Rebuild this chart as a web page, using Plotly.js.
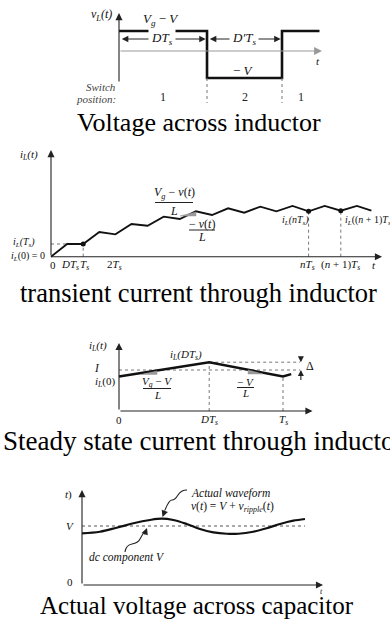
<!DOCTYPE html>
<html><head><meta charset="utf-8">
<script src="https://cdn.plot.ly/plotly-3.0.1.min.js"></script>
<style>html,body{margin:0;padding:0;background:#fff;}#chart{width:390px;height:623px;}</style>
</head><body><div id="chart"></div>
<script>
// ---------------- DATA ----------------
// Panel 1: voltage across inductor over one period (t in units of Ts; relative volts)
const vL_t      = [0, 0.54, 1, 1.23];
const vL_values = [1, -1.35, 1, 1];           // Vg - V , -V , Vg - V
const switchLabels = ['1', '2', '1'];

// Panel 2: transient inductor current (t in units of Ts; relative current)
const tr_t  = [0, 0.5, 1, 1.5, 2, 2.5, 3, 3.5, 4, 4.5, 5, 5.5, 6, 6.5, 7, 7.5, 8, 8.5, 9, 9.5, 9.95];
const tr_iL = [0, 12.7, 12.7, 24.7, 22.4, 32.7, 31, 40, 37.7, 45.4, 41.7, 48.4, 44, 50, 45.4, 50.7, 45.4, 50.7, 46, 50.7, 46];
const tr_tickVals = [0, 0.5, 1, 2, 8, 9];
const tr_tickText = ['0', '<i>DT<sub>s</sub></i>', '<i>T<sub>s</sub></i>', '2<i>T<sub>s</sub></i>', '<i>nT<sub>s</sub></i>', '(<i>n</i> + 1)<i>T<sub>s</sub></i>'];
const tr_marked = [1, 8, 9];

// Panel 3: steady-state inductor current (t in Ts; current in units of I)
const ss_t  = [0, 0.55, 1, 1.05];
const ss_iL = [0.84, 1.19, 0.84, 0.9];
const ss_I  = 1;
const ss_tickVals = [0, 0.55, 1];
const ss_tickText = ['0', '<i>DT<sub>s</sub></i>', '<i>T<sub>s</sub></i>'];

// Panel 4: capacitor voltage (t in ripple periods; voltage in units of V)
const cap_t = [0, 0.118, 0.228, 0.338, 0.447, 0.524, 0.601, 0.689, 0.776, 0.864, 0.952, 1.028, 1.127, 1.215, 1.303, 1.39, 1.467];
const cap_v = [0.876, 0.903, 0.971, 1.046, 1.102, 1.124, 1.102, 1.034, 0.949, 0.893, 0.869, 0.869, 0.903, 0.961, 1.034, 1.090, 1.119];
const cap_V = 1;

// ---------------- LAYOUT HELPERS ----------------
const W = 390, H = 623;
const SERIF = 'Liberation Serif, Times New Roman, serif';
// pixel calibration per panel: [px0, value0, px1, value1]
const cal = {
  p1: {x: [119, 0, 282, 1], y: [51, 0, 31, 1]},
  p2: {x: [51, 0, 83.2, 1], y: [256.7, 0, 206.7, 50]},
  p3: {x: [119, 0, 283, 1], y: [411, 0, 370, 1]},
  p4: {x: [82, 0, 234, 1], y: [585, 0, 526, 1]}
};
function rng(c, pa, pb) { const k = (c[3] - c[1]) / (c[2] - c[0]); return [c[1] + (pa - c[0]) * k, c[1] + (pb - c[0]) * k]; }
function ax(c, isY, anchor) {
  return {domain: [0, 1], range: isY ? rng(c, H, 0) : rng(c, 0, W), visible: false, fixedrange: true, anchor: anchor};
}
const PX = p => p / W, PY = p => 1 - p / H;
function T(px, py, text, size, o) {
  return Object.assign({xref: 'paper', yref: 'paper', x: PX(px), y: PY(py), text: text, showarrow: false,
    xanchor: 'center', yanchor: 'middle', font: {family: SERIF, size: size, color: '#111'}}, o || {});
}
function arrow(xr, yr, x0, y0, x1, y1, o) {
  return Object.assign({xref: xr, yref: yr, axref: xr, ayref: yr, x: x1, y: y1, ax: x0, ay: y0, text: '',
    showarrow: true, arrowhead: 2, arrowsize: 1.3, arrowwidth: 1.1, arrowcolor: '#222'}, o || {});
}
function path(pts) { // pts in pixels -> paper-space path
  return pts.map(p => p[0] + (p.slice(1).map(q => PX(q[0]).toFixed(4) + ',' + PY(q[1]).toFixed(4)).join(' '))).join(' ');
}
function pline(x0, y0, x1, y1, color, width, dash) {
  return {type: 'line', xref: 'paper', yref: 'paper', x0: PX(x0), y0: PY(y0), x1: PX(x1), y1: PY(y1),
    line: {color: color, width: width, dash: dash || 'solid'}};
}
function tri(pts, color) {
  return {type: 'path', xref: 'paper', yref: 'paper', path: path([['M', pts[0]], ['L', pts[1]], ['L', pts[2]], ['Z']]),
    fillcolor: color, line: {color: color, width: 0.5}};
}

// ---------------- TRACES ----------------
const BLACK = '#111', DOT = '#777';
const traces = [];
// Panel 1
traces.push({x: vL_t, y: vL_values, xaxis: 'x', yaxis: 'y', mode: 'lines', line: {shape: 'hv', color: BLACK, width: 2.6}, hoverinfo: 'skip'});
traces.push({x: [vL_t[1], vL_t[1], null, vL_t[2], vL_t[2]], y: [vL_values[1], -2.6, null, vL_values[1], -2.6],
  xaxis: 'x', yaxis: 'y', mode: 'lines', line: {color: DOT, width: 1, dash: 'dot'}, hoverinfo: 'skip'});
// Panel 2
const trTs = tr_iL[tr_t.indexOf(1)];
traces.push({x: [0, 1], y: [trTs, trTs], xaxis: 'x2', yaxis: 'y2', mode: 'lines', line: {color: DOT, width: 1, dash: 'dot'}, hoverinfo: 'skip'});
const vx = [], vy = [];
tr_marked.forEach(t => { vx.push(t, t, null); vy.push(0, tr_iL[tr_t.indexOf(t)], null); });
traces.push({x: vx, y: vy, xaxis: 'x2', yaxis: 'y2', mode: 'lines', line: {color: DOT, width: 1, dash: 'dot'}, hoverinfo: 'skip'});
traces.push({x: tr_t, y: tr_iL, xaxis: 'x2', yaxis: 'y2', mode: 'lines', line: {color: BLACK, width: 1.8}, hoverinfo: 'skip'});
traces.push({x: tr_marked, y: tr_marked.map(t => tr_iL[tr_t.indexOf(t)]), xaxis: 'x2', yaxis: 'y2', mode: 'markers',
  marker: {color: BLACK, size: 5}, hoverinfo: 'skip'});
// Panel 3
const ssExt = 1.104;
traces.push({x: [0, ssExt, null, ss_t[1], ssExt], y: [ss_I, ss_I, null, ss_iL[1], ss_iL[1]], xaxis: 'x3', yaxis: 'y3',
  mode: 'lines', line: {color: DOT, width: 1, dash: 'dot'}, hoverinfo: 'skip'});
traces.push({x: [ss_t[1], ss_t[1], null, ss_t[2], ss_t[2]], y: [0, ss_iL[1], null, 0, ss_iL[2]], xaxis: 'x3', yaxis: 'y3',
  mode: 'lines', line: {color: DOT, width: 1, dash: 'dot'}, hoverinfo: 'skip'});
traces.push({x: ss_t, y: ss_iL, xaxis: 'x3', yaxis: 'y3', mode: 'lines', line: {color: BLACK, width: 2.5}, hoverinfo: 'skip'});
// Panel 4
traces.push({x: [0, cap_t[cap_t.length - 1]], y: [cap_V, cap_V], xaxis: 'x4', yaxis: 'y4', mode: 'lines',
  line: {color: '#555', width: 1, dash: 'dot'}, hoverinfo: 'skip'});
traces.push({x: cap_t, y: cap_v, xaxis: 'x4', yaxis: 'y4', mode: 'lines', line: {color: BLACK, width: 2.2, shape: 'spline'}, hoverinfo: 'skip'});

// ---------------- ANNOTATIONS ----------------
const ann = [];
// Panel 1
ann.push(arrow('x', 'y', 0, -1.6, 0, 1.9));
ann.push(arrow('x', 'y', 0, 0, 1.245, 0, {arrowcolor: '#999', arrowwidth: 1.2}));
ann.push(arrow('x', 'y', 0.008, 0.6, vL_t[1] - 0.008, 0.6, {arrowside: 'end+start', arrowwidth: 1}));
ann.push(arrow('x', 'y', vL_t[1] + 0.008, 0.6, vL_t[2] - 0.008, 0.6, {arrowside: 'end+start', arrowwidth: 1}));
ann.push(T(162, 39, '<i>DT<sub>s</sub></i>', 13, {bgcolor: '#fff', borderpad: 2}));
ann.push(T(244, 39, '<i>D′T<sub>s</sub></i>', 13, {bgcolor: '#fff', borderpad: 2}));
ann.push(T(101, 15, '<i>v<sub>L</sub>(t)</i>', 12));
ann.push(T(161, 20, '<i>V<sub>g</sub></i> − <i>V</i>', 13));
ann.push(T(243, 70, '− <i>V</i>', 13));
ann.push(T(318, 61, '<i>t</i>', 11));
ann.push(T(118, 87, '<i>Switch</i>', 11, {xanchor: 'right', font: {family: SERIF, size: 11, color: '#444'}}));
ann.push(T(118, 99, '<i>position:</i>', 11, {xanchor: 'right', font: {family: SERIF, size: 11, color: '#444'}}));
const seg = [[vL_t[0], vL_t[1]], [vL_t[1], vL_t[2]], [vL_t[2], vL_t[3]]];
switchLabels.forEach((s, i) => ann.push({xref: 'x', yref: 'paper', x: (seg[i][0] + seg[i][1]) / 2, y: PY(97), text: s,
  showarrow: false, xanchor: 'center', yanchor: 'middle', font: {family: SERIF, size: 12, color: '#222'}}));
ann.push(T(199, 123, 'Voltage across inductor', 26, {font: {family: SERIF, size: 26, color: '#000'}}));

// Panel 2
ann.push(arrow('x2', 'y2', 0, 0, 0, 106.7));
ann.push(arrow('x2', 'y2', -0.05, 0, 10.28, 0));
ann.push(T(29, 155, '<i>i<sub>L</sub>(t)</i>', 11));
ann.push(T(37, 242, '<i>i<sub>L</sub>(T<sub>s</sub>)</i>', 10, {xanchor: 'right'}));
ann.push(T(47, 257, '<i>i<sub>L</sub></i>(0) = 0', 10, {xanchor: 'right'}));
const trShift = [2, 3, 1, -1, -1, 0];
tr_tickVals.forEach((v, i) => ann.push({xref: 'x2', yref: 'paper', x: v, y: PY(265), xshift: trShift[i], text: tr_tickText[i],
  showarrow: false, xanchor: 'center', yanchor: 'middle', font: {family: SERIF, size: 11, color: '#111'}}));
ann.push(T(374, 265, '<i>t</i>', 11));
ann.push(T(295, 220, '<i>i<sub>L</sub>(nT<sub>s</sub>)</i>', 10));
ann.push(T(343, 220, '<i>i<sub>L</sub></i>((<i>n</i> + 1)<i>T<sub>s</sub></i>)', 10, {xanchor: 'left'}));
ann.push(T(174, 193, '<i>V<sub>g</sub></i> − <i>v</i>(<i>t</i>)', 12));
ann.push(T(174, 211, '<i>L</i>', 12));
ann.push(T(202, 224, '− <i>v</i>(<i>t</i>)', 12));
ann.push(T(202, 237, '<i>L</i>', 12));
ann.push(T(198, 293, 'transient current through inductor', 26.5, {font: {family: SERIF, size: 26.5, color: '#000'}}));

// Panel 3
ann.push(arrow('x3', 'y3', 0, 0, 0, 1.66));
ann.push(arrow('x3', 'y3', 0, 0, 1.18, 0));
ann.push(arrow('x3', 'y3', ssExt + 0.005, 1.36, ssExt + 0.005, ss_iL[1], {arrowsize: 1.1}));
ann.push(arrow('x3', 'y3', ssExt + 0.005, 0.72, ssExt + 0.005, ss_I, {arrowsize: 1.1}));
ann.push(T(310, 366, 'Δ', 12));
ann.push(T(98, 346, '<i>i<sub>L</sub>(t)</i>', 11));
ann.push(T(97, 367.5, '<i>I</i>', 11.5));
ann.push(T(118, 381.5, '<i>i<sub>L</sub></i>(0)', 11, {xanchor: 'right'}));
ann.push(T(186, 355, '<i>i<sub>L</sub>(DT<sub>s</sub>)</i>', 11));
ann.push(T(157, 382, '<i>V<sub>g</sub></i> − <i>V</i>', 11));
ann.push(T(157, 395, '<i>L</i>', 11));
ann.push(T(245, 382, '− <i>V</i>', 11));
ann.push(T(245, 393, '<i>L</i>', 11));
ss_tickVals.forEach((v, i) => ann.push({xref: 'x3', yref: 'paper', x: v, y: PY(420), text: ss_tickText[i],
  showarrow: false, xanchor: 'center', yanchor: 'middle', font: {family: SERIF, size: 11, color: '#111'}}));
ann.push(T(203, 441, 'Steady state current through inductor', 27, {font: {family: SERIF, size: 27, color: '#000'}}));

// Panel 4
ann.push(arrow('x4', 'y4', 0, 0, 0, 1.61));
ann.push(arrow('x4', 'y4', 0, 0, 1.586, 0));
ann.push(T(68, 494, '<i>t</i>)', 11));
ann.push(T(70, 526, '<i>V</i>', 11));
ann.push(T(70, 582, '0', 11));
ann.push(T(321, 591.5, '<i>t</i>', 8));
ann.push(T(189, 493, '<i>Actual waveform</i>', 11.5, {xanchor: 'left'}));
ann.push(T(189, 507, '<i>v</i>(<i>t</i>) = <i>V</i> + <i>v<sub>ripple</sub></i>(<i>t</i>)', 11.5, {xanchor: 'left'}));
ann.push(T(127, 557, '<i>dc component V</i>', 11.5));
ann.push({xref: 'paper', yref: 'paper', x: PX(162.5), y: PY(517), ax: 3, ay: -8, text: '', showarrow: true,
  arrowhead: 2, arrowsize: 1.2, arrowwidth: 1.1, arrowcolor: '#222'});
ann.push({xref: 'paper', yref: 'paper', x: PX(147), y: PY(528), ax: -3, ay: 8, text: '', showarrow: true,
  arrowhead: 2, arrowsize: 1.2, arrowwidth: 1.1, arrowcolor: '#222'});
ann.push(T(197, 605, 'Actual voltage across capacitor', 25, {font: {family: SERIF, size: 25, color: '#000'}}));

// ---------------- SHAPES ----------------
const shapes = [
  pline(155, 202.5, 193, 202.5, '#222', 1),
  pline(189, 230, 215, 230, '#222', 1),
  pline(143, 388.5, 171, 388.5, '#222', 1),
  pline(237, 387.5, 254, 387.5, '#222', 1),
  tri([[180, 216], [196, 216], [196, 212]], '#999'),
  tri([[141, 374.5], [157, 374.5], [157, 371]], '#999'),
  tri([[248, 370], [248, 374], [263, 374]], '#999'),
  {type: 'path', xref: 'paper', yref: 'paper', line: {color: '#222', width: 1.1},
    path: path([['M', [187, 490]], ['Q', [181, 490], [178, 495]], ['T', [172, 500]], ['T', [165, 510]]])},
  {type: 'path', xref: 'paper', yref: 'paper', line: {color: '#222', width: 1.1},
    path: path([['M', [125, 552]], ['Q', [126, 545], [132, 544]], ['T', [140, 539]], ['T', [145, 531]]])}
];

const layout = {
  width: W, height: H, margin: {l: 0, r: 0, t: 0, b: 0}, showlegend: false,
  paper_bgcolor: '#fff', plot_bgcolor: 'rgba(0,0,0,0)',
  xaxis: ax(cal.p1.x, false, 'y'), yaxis: ax(cal.p1.y, true, 'x'),
  xaxis2: ax(cal.p2.x, false, 'y2'), yaxis2: ax(cal.p2.y, true, 'x2'),
  xaxis3: ax(cal.p3.x, false, 'y3'), yaxis3: ax(cal.p3.y, true, 'x3'),
  xaxis4: ax(cal.p4.x, false, 'y4'), yaxis4: ax(cal.p4.y, true, 'x4'),
  annotations: ann, shapes: shapes
};
Plotly.newPlot('chart', traces, layout, {staticPlot: true, displayModeBar: false});
</script></body></html>
